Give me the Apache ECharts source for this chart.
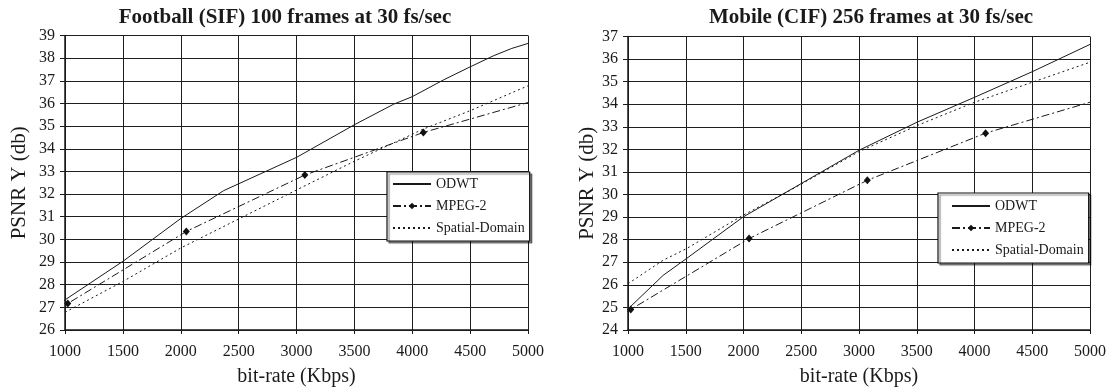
<!DOCTYPE html>
<html>
<head>
<meta charset="utf-8">
<script src="https://cdn.jsdelivr.net/npm/echarts@6/dist/echarts.min.js"></script>
<style>html,body{margin:0;padding:0;background:#fff}#c{width:1115px;height:392px}</style>
</head>
<body>
<div id="c"></div>
<script>
// ---- Data ----
const titles = ['Football (SIF) 100 frames at 30 fs/sec', 'Mobile (CIF) 256 frames at 30 fs/sec'];
const seriesNames = ['ODWT', 'MPEG-2', 'Spatial-Domain'];
const xLabelName = 'bit-rate (Kbps)';
const yLabelName = 'PSNR Y (db)';

// Football (SIF)
const footballODWT = [[925,27.05],[1000,27.33],[1500,29.03],[2000,30.92],[2370,32.15],[3000,33.62],[3500,35.06],[3840,35.97],[4000,36.3],[4270,37.04],[4490,37.59],[4700,38.1],[4860,38.43],[5000,38.65]];
const footballMPEG2 = [[926,26.95],[1024,27.17],[2048,30.35],[3072,32.84],[4096,34.72],[5000,36.04]];
const footballSpatial = [[1000,26.78],[1500,28.14],[2000,29.62],[3000,32.18],[3500,33.45],[4096,34.87],[4500,35.68],[5000,36.78]];

// Mobile (CIF)
const mobileODWT = [[963,24.75],[1304,26.42],[1505,27.16],[1995,29.0],[3000,31.96],[3505,33.21],[4002,34.31],[4504,35.45],[5000,36.65]];
const mobileMPEG2 = [[963,24.7],[1024,24.91],[2048,28.05],[3072,30.63],[4096,32.72],[5000,34.09]];
const mobileSpatial = [[1000,26.05],[1304,27.09],[1505,27.6],[1995,29.08],[2405,30.19],[3000,31.9],[3505,33.06],[4002,34.09],[4504,34.98],[5000,35.86]];

// axis ranges / ticks
const xMin = 1000, xMax = 5000, xStep = 500;
const yRanges = [[26, 39], [24, 37]];
const yStep = 1;

// ---- Chart ----
const FONT = 'Liberation Serif';
const INK = '#1a1a1a';
const markerXs = [1024, 2048, 3072, 4096];

function mpegData(arr) {
  return arr.map(p => markerXs.indexOf(p[0]) >= 0 ? {value: p} : {value: p, symbol: 'none'});
}

const grids = [
  {left: 65, top: 35.5, width: 463, height: 294.5},
  {left: 628, top: 36.5, width: 462, height: 294}
];
const yNameGaps = [35, 30];
const legendPos = [{left: 387, top: 172}, {left: 938, top: 193}];
const legendPad = [[4, 5, 5, 5], [5, 5, 5, 13]];
const titleCenters = [280, 866];

function xAxis(i) {
  return {
    type: 'value', gridIndex: i, min: xMin, max: xMax, interval: xStep,
    name: xLabelName, nameLocation: 'middle', nameGap: 37,
    nameTextStyle: {fontFamily: FONT, fontSize: 20, color: INK},
    axisLine: {show: true, onZero: false, lineStyle: {color: INK, width: 1.5}},
    axisTick: {show: true, length: 4, lineStyle: {color: INK}},
    axisLabel: {fontFamily: FONT, fontSize: 16, color: INK, margin: 14, formatter: v => String(v)},
    splitLine: {show: true, lineStyle: {color: '#1e1e1e', width: 1}}
  };
}
function yAxis(i) {
  return {
    type: 'value', gridIndex: i, min: yRanges[i][0], max: yRanges[i][1], interval: yStep,
    name: yLabelName, nameLocation: 'middle', nameGap: yNameGaps[i], nameRotate: 90,
    nameTextStyle: {fontFamily: FONT, fontSize: 21, color: INK},
    axisLine: {show: true, onZero: false, lineStyle: {color: INK, width: 1.5}},
    axisTick: {show: true, length: 5, lineStyle: {color: INK}},
    axisLabel: {fontFamily: FONT, fontSize: 16, color: INK, margin: 10, formatter: v => String(v)},
    splitLine: {show: true, lineStyle: {color: '#1e1e1e', width: 1}}
  };
}

const dashDot = [8, 3, 2, 3];
const dotted = [2, 3];

function seriesFor(i, odwt, mpeg, spatial) {
  return [
    {name: seriesNames[0], type: 'line', xAxisIndex: i, yAxisIndex: i, data: odwt, symbol: 'none', clip: false,
     lineStyle: {color: INK, width: 1}, itemStyle: {color: INK}, animation: false},
    {name: seriesNames[1], type: 'line', xAxisIndex: i, yAxisIndex: i, data: mpegData(mpeg), symbol: 'diamond', symbolSize: [7, 8], clip: false,
     lineStyle: {color: INK, width: 1, type: dashDot}, itemStyle: {color: '#111'}, animation: false},
    {name: seriesNames[2], type: 'line', xAxisIndex: i, yAxisIndex: i, data: spatial, symbol: 'none', clip: false,
     lineStyle: {color: INK, width: 1, type: dotted}, itemStyle: {color: INK}, animation: false}
  ];
}

function legend(i) {
  return {
    orient: 'vertical', left: legendPos[i].left, top: legendPos[i].top,
    padding: legendPad[i], itemGap: 6, itemWidth: 38, itemHeight: 8,
    backgroundColor: '#fff', borderColor: '#111', borderWidth: 1.2,
    shadowColor: 'rgba(0,0,0,0.45)', shadowBlur: 1, shadowOffsetX: 2, shadowOffsetY: 2,
    selectedMode: false,
    textStyle: {fontFamily: FONT, fontSize: 14, color: INK, lineHeight: 16},
    data: [
      {name: seriesNames[0], itemStyle: {color: 'rgba(0,0,0,0)', borderWidth: 0}},
      {name: seriesNames[1]},
      {name: seriesNames[2], itemStyle: {color: 'rgba(0,0,0,0)', borderWidth: 0}}
    ]
  };
}

const chart = echarts.init(document.getElementById('c'), null, {renderer: 'canvas'});
chart.setOption({
  backgroundColor: '#fff',
  animation: false,
  title: titles.map((t, i) => ({
    text: t, left: titleCenters[i], top: 2, textAlign: 'center',
    textStyle: {fontFamily: FONT, fontSize: 21, fontWeight: 'bold', color: INK}
  })),
  grid: grids,
  xAxis: [xAxis(0), xAxis(1)],
  yAxis: [yAxis(0), yAxis(1)],
  legend: [legend(0), legend(1)],
  series: [].concat(
    seriesFor(0, footballODWT, footballMPEG2, footballSpatial),
    seriesFor(1, mobileODWT, mobileMPEG2, mobileSpatial)
  )
});
</script>
</body>
</html>
